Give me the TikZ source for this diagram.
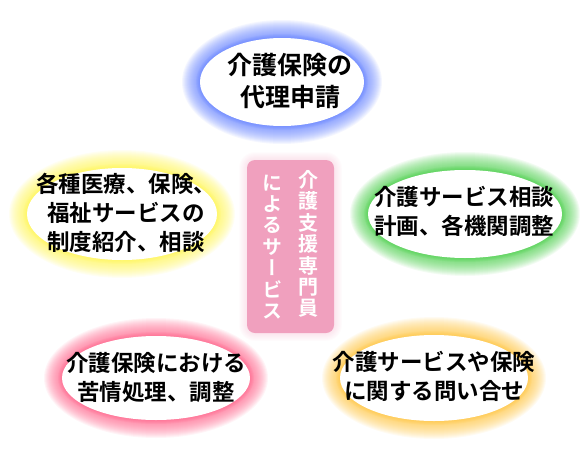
\documentclass[tikz,border=0pt]{standalone}
\usepackage{fontspec}
\newfontfamily\jp{Noto Sans CJK JP}[BoldFont={* Bold}]
\newfontfamily\jpv{Noto Sans CJK JP}[BoldFont={* Bold},RawFeature=+vert]
\usetikzlibrary{positioning}
\definecolor{gblue}{RGB}{95,125,255}
\definecolor{ggreen}{RGB}{70,205,70}
\definecolor{gyellow}{RGB}{255,245,80}
\definecolor{gpink}{RGB}{255,95,135}
\definecolor{gorange}{RGB}{255,195,60}
\definecolor{boxpink}{RGB}{240,160,190}

\begin{document}
\begin{tikzpicture}[x=1pt,y=-1pt]
\useasboundingbox (0,0) rectangle (588,455);
\tikzset{
  svc/.style={font=\jp\bfseries\fontsize{22.5}{29}\selectfont, align=center, text=black, inner sep=0pt},
  vcol/.style={font=\jpv\bfseries\fontsize{20}{21.4}\selectfont, align=center, text=white, inner sep=0pt}
}
% glowing ellipses
\foreach \cx/\cy/\rx/\ry/\col in {
  282/82/82/44/gblue, 465/214/97/44/ggreen, 122/214/95/46/gyellow,
  156/378/94/42/gpink, 434/378/94/43/gorange} {
  \foreach \g in {18,...,1}
    \fill[\col, opacity=0.065] (\cx,\cy) ellipse [x radius=\rx+\g, y radius=\ry+\g];
  \foreach \g in {4,...,1}
    \fill[\col, opacity=0.12] (\cx,\cy) ellipse [x radius=\rx+\g, y radius=\ry+\g];
  \fill[white] (\cx,\cy) ellipse [x radius=\rx, y radius=\ry];
}

% centre box
\foreach \g in {8,...,1}
  \fill[boxpink, opacity=0.035, rounded corners=8+\g] (247-\g,160-\g) rectangle (334+\g,333+\g);
\fill[boxpink, rounded corners=8] (247,160) rectangle (334,333);
\node[vcol] (senmon) at (308.5,244) {介\\護\\支\\援\\専\\門\\員};
\node[vcol] (service) at (272.5,247) {に\\よ\\る\\サ\\ー\\ビ\\ス};

\node[svc, font=\jp\bfseries\fontsize{25}{32}\selectfont] (shinsei) at (290,81) {介護保険の\\代理申請};
\node[svc] (keikaku) at (464,211) {介護サービス相談\\計画、各機関調整};
\node[svc] (shokai) at (126,213) {各種医療、保険、\\福祉サービスの\\制度紹介、相談};
\node[svc] (kujo) at (156,377) {介護保険における\\苦情処理、調整};
\node[svc] (toiawase) at (434,376) {介護サービスや保険\\に関する問い合せ};
\end{tikzpicture}
\end{document}
